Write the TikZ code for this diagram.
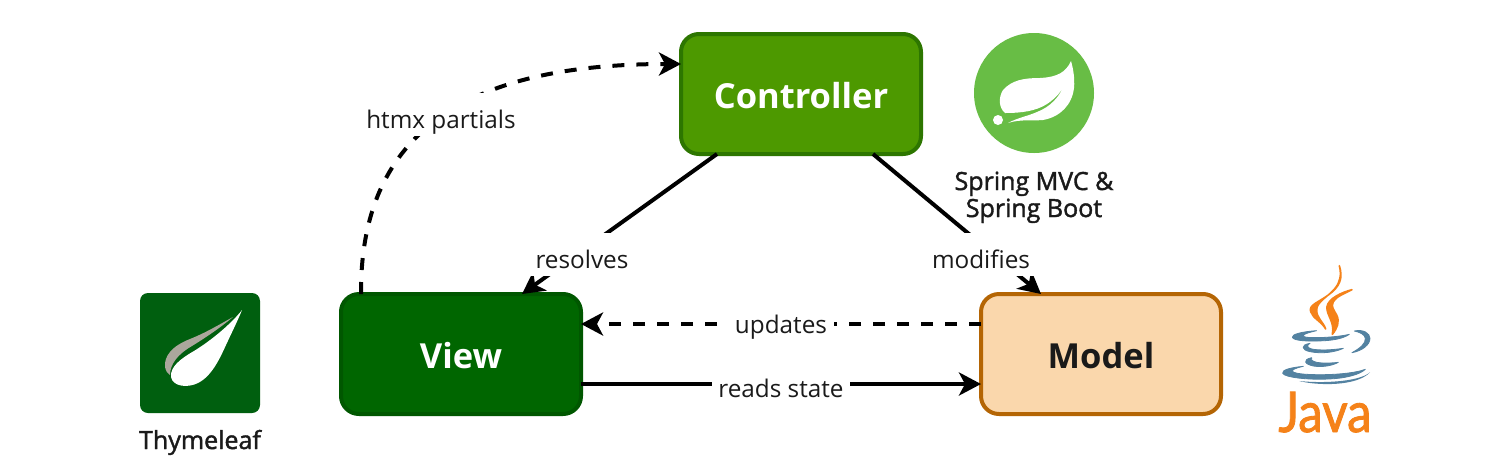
\documentclass[tikz,border=0pt]{standalone}
\usepackage{fontspec}
\setmainfont{Open Sans}
\newfontfamily\capfont[FakeBold=1.6]{Open Sans}
\newfontfamily\javafont[FakeStretch=0.88,FakeBold=1.5]{Lato}
\usetikzlibrary{arrows.meta}
\definecolor{inkc}{HTML}{1A1A1A}
\definecolor{ctrlfill}{HTML}{4D9900}
\definecolor{ctrlline}{HTML}{2D7600}
\definecolor{viewfill}{HTML}{006600}
\definecolor{viewline}{HTML}{005700}
\definecolor{modelfill}{HTML}{FAD7AC}
\definecolor{modelline}{HTML}{B46504}
\definecolor{springg}{HTML}{68BD45}
\definecolor{thymeg}{HTML}{005F0F}
\definecolor{thymegrey}{HTML}{ABA79C}
\definecolor{javao}{HTML}{F58219}
\definecolor{javab}{HTML}{5382A1}
\tikzset{
  mvcbox/.style={rounded corners=18pt,line width=4pt,minimum width=240pt,minimum height=120pt,outer sep=0pt,inner sep=0pt},
  flow/.style={line width=4pt,draw=black,-{Stealth[length=22pt,width=23pt,inset=6pt]}},
  dashflow/.style={flow,dash pattern=on 12pt off 12pt},
  edgelab/.style={fill=white,anchor=base,inner xsep=6.5pt,inner ysep=0pt,text height=35pt,text depth=8pt,text=inkc,font=\fontsize{24.3}{28}\selectfont},
  caption/.style={text=inkc,align=center,anchor=base,inner sep=0pt,font=\fontsize{25}{30}\capfont},
  boxtext/.style={text height=28pt,text depth=0pt,font=\fontsize{34.5}{40}\selectfont\bfseries}
}
\begin{document}
\begin{tikzpicture}[x=1pt,y=-1pt]
\path[use as bounding box,fill=white] (0,0) rectangle (1500,459);
% boxes
\node[mvcbox,boxtext,draw=ctrlline,fill=ctrlfill,text=white] (ctrl) at (801,94) {Controller};
\node[mvcbox,boxtext,draw=viewline,fill=viewfill,text=white] (view) at (461,354) {View};
\node[mvcbox,boxtext,draw=modelline,fill=modelfill,text=inkc] (model) at (1101,354) {Model};
% connectors
\draw[flow] ([xshift=-84pt]ctrl.south) -- ([xshift=61pt]view.north);
\draw[flow] ([xshift=72pt]ctrl.south) -- ([xshift=-60pt]model.north);
\draw[dashflow] ([yshift=30pt]model.west) -- ([yshift=30pt]view.east);
\draw[flow] ([yshift=-30pt]view.east) -- ([yshift=-30pt]model.west);
\draw[dashflow] ([xshift=-100pt]view.north) .. controls (360,130) and (470,64) .. ([yshift=30pt]ctrl.west);
% connector labels
\node[edgelab] (l1) at (582,268) {resolves};
\node[edgelab] (l2) at (981,268) {modifies};
\node[edgelab] (l3) at (781,333) {updates};
\node[edgelab] (l4) at (781,397) {reads state};
\node[edgelab] (l5) at (441,128) {htmx partials};
% Spring icon
\fill[springg] (1034,93) circle (60);
\fill[white] (1071,61) .. controls (1066,72) and (1058,77) .. (1040,78)
  .. controls (1024,78) and (1012,80) .. (1003,90)
  .. controls (998,98) and (999,108) .. (1005,113)
  .. controls (1022,113) and (1036,111) .. (1047,104)
  .. controls (1056,98) and (1062,91) .. (1065,83)
  .. controls (1060,97) and (1050,107) .. (1037,112)
  .. controls (1028,116) and (1017,118) .. (1008,123)
  .. controls (1020,119) and (1032,121) .. (1043,120)
  .. controls (1060,117) and (1072,105) .. (1074,88)
  .. controls (1075,78) and (1073,68) .. (1071,61) -- cycle;
\fill[white] (998,120) circle (5);
\node[caption] (springa) at (1034,190) {Spring MVC \&};
\node[caption] (springb) at (1034,217) {Spring Boot};
% Thymeleaf icon
\fill[thymeg,rounded corners=8pt] (140,293) rectangle (260,413);
\fill[thymegrey] (233,317) .. controls (215,327) and (205,333) .. (190,339)
  .. controls (172,346) and (164,356) .. (165,367)
  .. controls (166,371) and (167,373) .. (170,375)
  .. controls (170,364) and (178,354) .. (192,346)
  .. controls (205,338) and (220,328) .. (233,317) -- cycle;
\fill[white] (242,310) .. controls (232,323) and (212,340) .. (194,351)
  .. controls (180,359) and (170,367) .. (171,377)
  .. controls (173,387) and (188,388) .. (198,383)
  .. controls (212,376) and (220,358) .. (226,345)
  .. controls (232,332) and (238,320) .. (242,310) -- cycle;
\node[caption] (thyme) at (200,449) {Thymeleaf};
% Java icon
\begin{scope}[shift={(1260,255)},x=0.3333pt,y=-0.3333pt,line width=1.6pt,line join=round]
\filldraw[javao] (238,32) .. controls (250,70) and (240,95) .. (205,120)
  .. controls (175,142) and (145,150) .. (152,170)
  .. controls (158,190) and (185,200) .. (197,222)
  .. controls (190,200) and (170,190) .. (170,165)
  .. controls (170,140) and (205,125) .. (225,100)
  .. controls (240,82) and (245,60) .. (238,32) -- cycle;
\filldraw[javao] (276,104) .. controls (245,112) and (205,130) .. (201,155)
  .. controls (198,180) and (225,200) .. (217,238)
  .. controls (232,220) and (240,200) .. (230,180)
  .. controls (222,165) and (212,155) .. (220,140)
  .. controls (228,125) and (255,115) .. (276,104) -- cycle;
\filldraw[javab,line width=0.8pt] (170,227) .. controls (125,230) and (95,238) .. (97,247)
  .. controls (100,258) and (150,260) .. (195,257)
  .. controls (225,255) and (250,250) .. (268,238)
  .. controls (240,245) and (180,250) .. (140,247)
  .. controls (125,245) and (120,238) .. (170,227) -- cycle;
\filldraw[javab,line width=0.8pt] (283,228) .. controls (310,222) and (330,235) .. (330,250)
  .. controls (330,270) and (305,288) .. (276,293)
  .. controls (300,280) and (318,265) .. (316,250)
  .. controls (314,238) and (300,232) .. (283,228) -- cycle;
\filldraw[javab,line width=0.8pt] (150,265) .. controls (120,270) and (125,285) .. (150,290)
  .. controls (185,297) and (225,292) .. (250,280)
  .. controls (215,285) and (180,287) .. (155,282)
  .. controls (140,278) and (140,270) .. (150,265) -- cycle;
\filldraw[javab,line width=0.8pt] (155,308) .. controls (125,315) and (135,328) .. (160,333)
  .. controls (185,337) and (215,333) .. (235,322)
  .. controls (210,325) and (185,325) .. (170,322)
  .. controls (155,318) and (150,313) .. (155,308) -- cycle;
\filldraw[javab,line width=0.8pt] (130,334) .. controls (90,338) and (65,345) .. (68,355)
  .. controls (75,368) and (150,375) .. (205,372)
  .. controls (260,370) and (300,358) .. (316,343)
  .. controls (285,355) and (210,362) .. (140,358)
  .. controls (90,355) and (80,345) .. (130,334) -- cycle;
\fill[javab] (118,378) .. controls (170,392) and (290,395) .. (330,352)
  .. controls (295,382) and (180,385) .. (118,378) -- cycle;
\end{scope}
\node[anchor=base,inner sep=0pt,text=javao,font=\fontsize{56}{60}\javafont] (java) at (1325,432) {Java};
\end{tikzpicture}
\end{document}
